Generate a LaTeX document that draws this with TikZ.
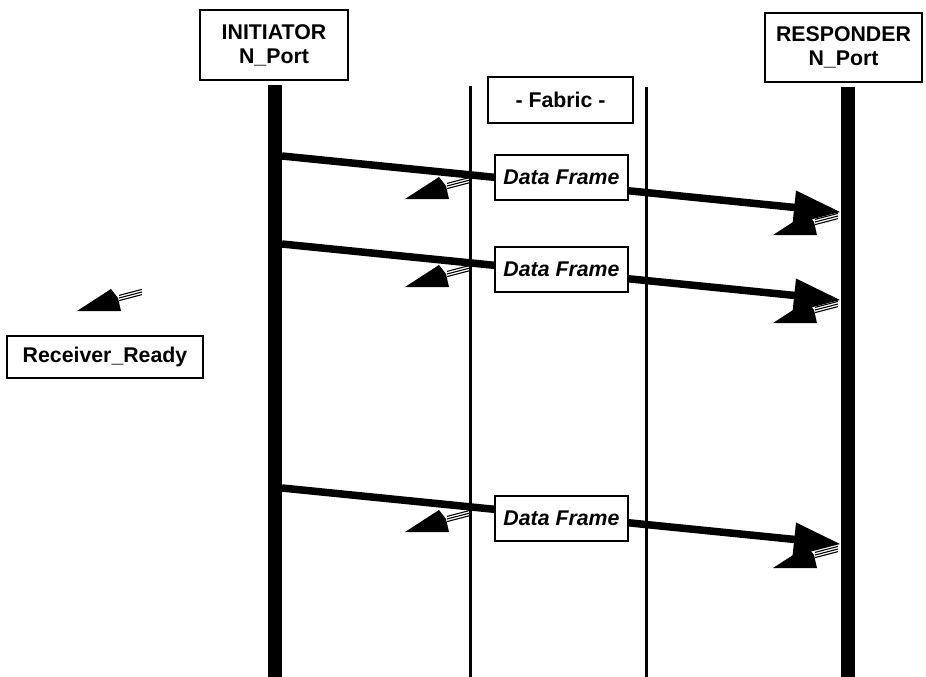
\documentclass[tikz,border=0pt]{standalone}
\usepackage{fontspec}
\setmainfont{Liberation Sans}
\usetikzlibrary{calc}
\begin{document}
\begin{tikzpicture}[x=1pt,y=-1pt,
  box/.style={draw, line width=2pt, fill=white, inner sep=0pt, align=center,
    font=\fontsize{21.3}{24}\selectfont\bfseries},
  framebox/.style={box, font=\fontsize{21.3}{24}\selectfont\bfseries\itshape,
    minimum width=133pt, minimum height=45pt},
  lifeline/.style={line width=14pt},
  fabricline/.style={line width=3pt},
  frameline/.style={line width=7.5pt},
  rrdy/.pic={
    \fill (-31,-3) -- (-24,6) -- (-21,19) -- (-65,19) -- cycle;
    \foreach \k in {-2.6,0,2.6}
      \draw[line width=1.1pt] (-23,6+\k) -- (0,\k);
  }]
\useasboundingbox (0,0) rectangle (926,677);

% lifelines of the two ports and the fabric boundaries
\coordinate (iTop) at (275,85);   \coordinate (iBot) at (275,677);
\coordinate (rTop) at (847.5,87); \coordinate (rBot) at (847.5,677);
\coordinate (fLTop) at (470,86);  \coordinate (fLBot) at (470,677);
\coordinate (fRTop) at (646,87);  \coordinate (fRBot) at (646,677);
\draw[lifeline] (iTop) -- (iBot);
\draw[lifeline] (rTop) -- (rBot);
\draw[fabricline] (fLTop) -- (fLBot);
\draw[fabricline] (fRTop) -- (fRBot);

% data frames from initiator to responder
\foreach \n/\ys in {1/156, 2/244, 3/488} {
  \coordinate (s\n) at (282,\ys);
  \coordinate (e\n) at (840,\ys+56);
  \draw[frameline] (s\n) -- ($(s\n)!0.93!(e\n)$);
  \fill ($(e\n)+(-44,-21.5)$) -- (e\n) -- ($(e\n)+(-47.5,12.3)$) -- cycle;
}

% receiver ready acknowledgements
\coordinate (a1) at (470,180); \coordinate (b1) at (838,216);
\coordinate (a2) at (470,268); \coordinate (b2) at (838,304);
\coordinate (a3) at (470,513); \coordinate (b3) at (838,549);
\coordinate (legend) at (142,292);
\foreach \c in {a1,b1,a2,b2,a3,b3,legend}
  \pic at (\c) {rrdy};

% labelled boxes
\node[box, minimum width=148pt, minimum height=70pt] (init) at (274,45)
  {INITIATOR\\N\_Port};
\node[box, minimum width=157pt, minimum height=69pt] (resp) at (843.5,47.5)
  {RESPONDER\\N\_Port};
\node[box, minimum width=145pt, minimum height=46pt] (fabric) at (560.5,100)
  {- Fabric -};
\node[framebox] (df1) at (561.5,177.5) {Data Frame};
\node[framebox] (df2) at (561.5,269.5) {Data Frame};
\node[framebox] (df3) at (561.5,518.5) {Data Frame};
\node[box, minimum width=196pt, minimum height=42pt] (rr) at (105,357)
  {Receiver\_Ready};
\end{tikzpicture}
\end{document}
